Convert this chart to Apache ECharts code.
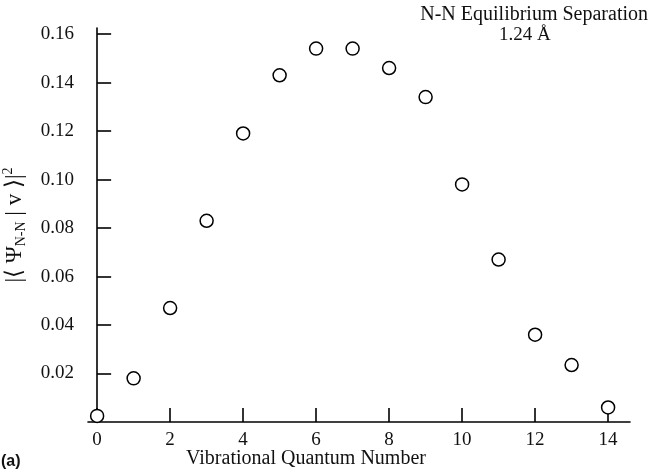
<!DOCTYPE html>
<html>
<head>
<meta charset="utf-8">
<script src="https://cdn.jsdelivr.net/npm/echarts@6/dist/echarts.min.js"></script>
<style>
  html, body { margin: 0; padding: 0; background: #fff; }
  #chart { width: 651px; height: 472px; }
</style>
</head>
<body>
<div id="chart"></div>
<script>
// Vibrational quantum numbers and overlap values |<psi_N-N | v>|^2
const quantumNumbers = [0, 1, 2, 3, 4, 5, 6, 7, 8, 9, 10, 11, 12, 13, 14];
const overlapValues = [0.0025, 0.018, 0.047, 0.083, 0.119, 0.143, 0.154, 0.154,
                       0.146, 0.134, 0.098, 0.067, 0.036, 0.0235, 0.006];
const xTicks = [0, 2, 4, 6, 8, 10, 12, 14];
const yTicks = [0.02, 0.04, 0.06, 0.08, 0.10, 0.12, 0.14, 0.16];

const serif = '"Liberation Serif", "DejaVu Serif", serif';
const chart = echarts.init(document.getElementById('chart'), null, { renderer: 'canvas' });

chart.setOption({
  animation: false,
  backgroundColor: '#fff',
  grid: { left: 88, right: 21, top: 28, bottom: 50, containLabel: false, outerBoundsMode: 'none' },
  xAxis: {
    type: 'value',
    min: -0.25,
    max: 14.6,
    name: 'Vibrational Quantum Number',
    nameLocation: 'middle',
    nameGap: 27,
    nameMoveOverlap: false,
    nameTextStyle: { fontFamily: serif, fontSize: 20, color: '#111', padding: [0, 106, 0, 0] },
    axisLine: { show: true, lineStyle: { color: '#000', width: 1.6 } },
    axisTick: { show: true, inside: true, length: 14, customValues: xTicks, lineStyle: { color: '#000', width: 1.6 } },
    axisLabel: { customValues: xTicks, fontFamily: serif, fontSize: 19, color: '#111', margin: 9 },
    splitLine: { show: false }
  },
  yAxis: {
    type: 'value',
    min: 0,
    max: 0.1625,
    name: '|⟨ Ψ{sub|N-N} | v ⟩|{sup|2}',
    nameLocation: 'middle',
    nameRotate: 90,
    nameGap: 60,
    nameMoveOverlap: false,
    nameTextStyle: {
      fontFamily: serif, fontSize: 23, color: '#111',
      rich: {
        sub: { fontFamily: serif, fontSize: 14, color: '#111', padding: [13, 0, 0, 0] },
        sup: { fontFamily: serif, fontSize: 14, color: '#111', padding: [0, 0, 13, 0] }
      }
    },
    axisLine: { show: true, lineStyle: { color: '#000', width: 1.6 } },
    axisTick: { show: true, inside: true, length: 14, customValues: yTicks, lineStyle: { color: '#000', width: 1.6 } },
    axisLabel: {
      customValues: yTicks, fontFamily: serif, fontSize: 19, color: '#111', margin: 14,
      formatter: v => v.toFixed(2)
    },
    splitLine: { show: false }
  },
  graphic: [
    {
      type: 'text', right: 3, top: 5,
      style: { text: 'N-N Equilibrium Separation', font: '20px ' + serif, fill: '#111' }
    },
    {
      type: 'text', left: 499, top: 26,
      style: { text: '1.24 Å', font: '19px ' + serif, fill: '#111' }
    },
    {
      type: 'text', left: 1, top: 454,
      style: { text: '(a)', font: 'bold 16px "Liberation Sans", Arial, sans-serif', fill: '#111' }
    }
  ],
  series: [{
    type: 'scatter',
    data: quantumNumbers.map((q, i) => [q, overlapValues[i]]),
    symbol: 'circle',
    symbolSize: 13,
    z: 5,
    itemStyle: { color: '#fff', borderColor: '#000', borderWidth: 1.5, opacity: 1 }
  }]
});
</script>
</body>
</html>
